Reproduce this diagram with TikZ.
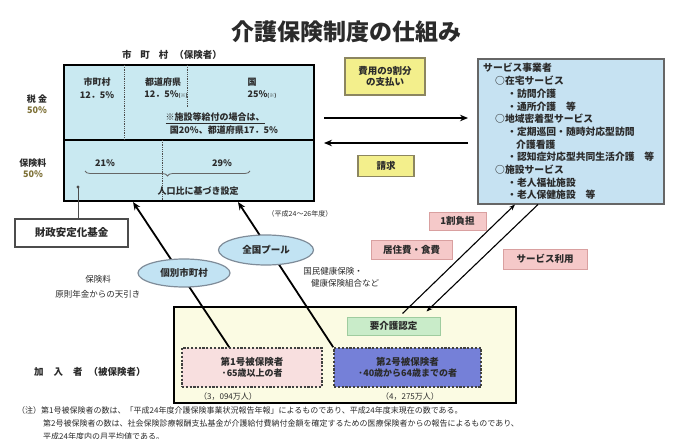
\documentclass[tikz,border=0pt]{standalone}
\usepackage{fontspec}
\setmainfont{Noto Sans CJK JP}
\usetikzlibrary{arrows.meta,decorations.pathreplacing,shapes.geometric,calc}
\definecolor{ink}{HTML}{2B2B2B}
\definecolor{cyanfill}{HTML}{C9E9F1}
\definecolor{svcfill}{HTML}{C6E2F2}
\definecolor{yelfill}{HTML}{F3EF8C}
\definecolor{yelborder}{HTML}{8C8660}
\definecolor{pinkfill}{HTML}{F5C9C9}
\definecolor{pinkborder}{HTML}{D9A0A0}
\definecolor{ovalfill}{HTML}{C2E3F3}
\definecolor{ovalborder}{HTML}{7F8C99}
\definecolor{botfill}{HTML}{FBFBE3}
\definecolor{greenfill}{HTML}{C9ECC9}
\definecolor{greenborder}{HTML}{9FCC9F}
\definecolor{insonefill}{HTML}{F8DFDF}
\definecolor{instwofill}{HTML}{7580D8}
\definecolor{olive}{HTML}{7D7035}
\begin{document}
\begin{tikzpicture}[x=1pt,y=-1pt,
  tb/.style={font=\bfseries\fontsize{9}{10}\selectfont, text=ink, inner sep=0pt},
  tr/.style={font=\fontsize{8.5}{10}\selectfont, text=ink, inner sep=0pt},
  boxbase/.style={inner sep=0pt, align=center, font=\bfseries\fontsize{9.5}{11.5}\selectfont, text=ink},
  mainbox/.style={draw=black, line width=2pt, fill=cyanfill, inner sep=0pt, anchor=north west},
  svcbox/.style={draw=black!60, line width=1.5pt, fill=svcfill, inner sep=0pt, anchor=north west},
  yelbox/.style={boxbase, draw=yelborder, line width=1.2pt, fill=yelfill},
  pinkbox/.style={boxbase, draw=pinkborder, line width=1pt, fill=pinkfill},
  oval/.style={boxbase, ellipse, draw=ovalborder, line width=1.2pt, fill=ovalfill},
  dashbox/.style={boxbase, draw=black!75, line width=1.6pt, dash pattern=on 2.2pt off 1.6pt},
  arr/.style={line width=1.8pt, -{Stealth[length=8pt,width=6.5pt]}},
  thinarr/.style={line width=1.1pt, -{Stealth[length=6pt,width=4.5pt]}},
  dotline/.style={densely dotted, line width=0.8pt, black!70}]
\useasboundingbox (0,0) rectangle (673,439);
\fill[white] (0,0) rectangle (673,439);

% title
\node[font=\bfseries\fontsize{23}{26}\selectfont, text=ink, inner sep=0pt] (title) at (346,32) {介護保険制度の仕組み};

% municipality box
\node[tb, font=\bfseries\fontsize{9.5}{11}\selectfont] (munlabel) at (172,55) {市\hspace{9pt}町\hspace{9pt}村\hspace{6pt}（保険者）};
\node[mainbox, minimum width=250pt, minimum height=136pt] (mun) at (63,64) {};
\draw[line width=1.2pt] (63,140) -- (313,140);
\draw[dotline] (124,65) -- (124,140);
\draw[dotline] (187,65) -- (187,107);
\draw[dotline] (162,140) -- (162,200);

\node[tb] (tlabel1) at (37,99) {税\ 金};
\node[tb, text=olive] (tlabel2) at (37,110) {50\%};
\node[tb] (ilabel1) at (33,163) {保険料};
\node[tb, text=olive] (ilabel2) at (33,174) {50\%};

\node[tb] (m1) at (97,82) {市町村};
\node[tb] (m2) at (97,95) {12．5\%};
\node[tb] (p1) at (163,82) {都道府県};
\node[tb] (p2) at (166,95) {12．5\%{\fontsize{5}{6}\selectfont (※)}};
\node[tb] (n1) at (252,82) {国};
\node[tb] (n2) at (262,95) {25\%{\fontsize{5}{6}\selectfont (※)}};
\node[tb] (note1) at (215,118) {\underline{※施設等給付の場合は、}};
\node[tb] (note2) at (224,130) {国20\%、都道府県17．5\%};

\node[tb] (r21) at (105,163) {21\%};
\node[tb] (r29) at (222,163) {29\%};
\draw[decorate, decoration={brace, mirror, amplitude=5pt}, line width=0.8pt, black!60] (85,171) -- (250,171);
\node[tb] (jinko) at (198,191) {人口比に基づき設定};
\coordinate (dot) at (78,187);

% fund
\node[boxbase, draw=black!70, line width=1.2pt, fill=white, minimum width=113pt, minimum height=28pt, font=\bfseries\fontsize{10.5}{12}\selectfont] (kikin) at (71.5,233) {財政安定化基金};
\draw[line width=0.9pt, black!70] (kikin.north -| dot) -- (dot);
\fill[black!70] (dot) circle (1.6pt);

\node[tr, font=\fontsize{7}{8}\selectfont] (heisei) at (300,214) {（平成24～26年度）};

% service providers
\node[svcbox, minimum width=186pt, minimum height=145pt] (svc) at (477,58) {};
\node[font=\bfseries\fontsize{9.8}{12.7}\selectfont, text=ink, inner sep=0pt, align=left, anchor=north west] (svctext) at (483,63.2) {%
サービス事業者\\
\hspace*{12pt}○在宅サービス\\
\hspace*{24pt}・訪問介護\\
\hspace*{24pt}・通所介護　等\\
\hspace*{12pt}○地域密着型サービス\\
\hspace*{24pt}・定期巡回・随時対応型訪問\\
\hspace*{33pt}介護看護\\
\hspace*{24pt}・認知症対応型共同生活介護　等\\
\hspace*{12pt}○施設サービス\\
\hspace*{24pt}・老人福祉施設\\
\hspace*{24pt}・老人保健施設　等};

% payment / claim
\node[yelbox, minimum width=80pt, minimum height=37pt] (pay) at (385,76.5) {費用の9割分\\の支払い};
\node[yelbox, minimum width=56pt, minimum height=21pt] (claim) at (386,166) {請求};
\coordinate (payy) at (0,118);
\coordinate (clmy) at (0,143);
\draw[arr, shorten <=9pt, shorten >=9pt] (mun.east |- payy) -- (svc.west |- payy);
\draw[arr, shorten <=9pt, shorten >=9pt] (svc.west |- clmy) -- (mun.east |- clmy);

% pink labels
\node[pinkbox, minimum width=57pt, minimum height=18pt] (ichiwari) at (457.5,221) {1割負担};
\node[pinkbox, minimum width=81pt, minimum height=19pt] (kyoju) at (411.5,249.5) {居住費・食費};
\node[pinkbox, minimum width=84pt, minimum height=20pt] (riyou) at (545,259) {サービス利用};

% insured box
\node[draw=black, line width=2pt, fill=botfill, minimum width=342pt, minimum height=96pt, inner sep=0pt] (kanyu) at (345,355) {};
\node[boxbase, draw=greenborder, line width=1pt, fill=greenfill, minimum width=93pt, minimum height=18pt] (nintei) at (393.5,326) {要介護認定};
\node[dashbox, fill=insonefill, minimum width=140pt, minimum height=39pt] (ins1) at (252,367.5) {第1号被保険者\\{\fontsize{9}{11}\selectfont ·65歳以上の者}};
\node[dashbox, fill=instwofill, minimum width=147pt, minimum height=39pt] (ins2) at (407.5,367.5) {第2号被保険者\\{\fontsize{9}{11}\selectfont ·40歳から64歳までの者}};
\node[tr, font=\fontsize{8}{9}\selectfont] (cnt1) at (228,397) {（3，094万人）};
\node[tr, font=\fontsize{8}{9}\selectfont] (cnt2) at (410,397) {（4，275万人）};
\node[tb, font=\bfseries\fontsize{9.5}{11}\selectfont] (kanyulabel) at (90,372) {加\hspace{10pt}入\hspace{10pt}者\hspace{6pt}（被保険者）};

% premium lines
\draw[arr] ([xshift=48pt]ins1.north west) -- ([xshift=70pt]mun.south west);
\draw[arr] (ins2.north west) -- ([xshift=175pt]mun.south west);
\node[oval, minimum width=92pt, minimum height=28pt] (kobetsu) at (184,273) {個別市町村};
\node[oval, minimum width=95pt, minimum height=30pt] (zenkoku) at (266,250) {全国プール};
\node[tr] (hoken1) at (98,279) {保険料};
\node[tr] (hoken2) at (98,294) {原則年金からの天引き};
\node[tr] (kokuho1) at (333,271) {国民健康保険・};
\node[tr] (kokuho2) at (345,283) {健康保険組合など};

% service lines
\draw[thinarr] ([shift={(56,-3)}]nintei.north west) -- ([xshift=38pt]svc.south west);
\draw[thinarr] ([xshift=61pt]svc.south west) -- ([shift={(80,-5)}]nintei.north west);

% notes
\node[tr, font=\fontsize{8}{9}\selectfont, anchor=west] (fn1) at (17,410) {（注）第1号被保険者の数は、「平成24年度介護保険事業状況報告年報」によるものであり、平成24年度末現在の数である。};
\node[tr, font=\fontsize{8}{9}\selectfont, anchor=west] (fn2) at (43,423) {第2号被保険者の数は、社会保険診療報酬支払基金が介護給付費納付金額を確定するための医療保険者からの報告によるものであり、};
\node[tr, font=\fontsize{8}{9}\selectfont, anchor=west] (fn3) at (43,436) {平成24年度内の月平均値である。};
\end{tikzpicture}
\end{document}
